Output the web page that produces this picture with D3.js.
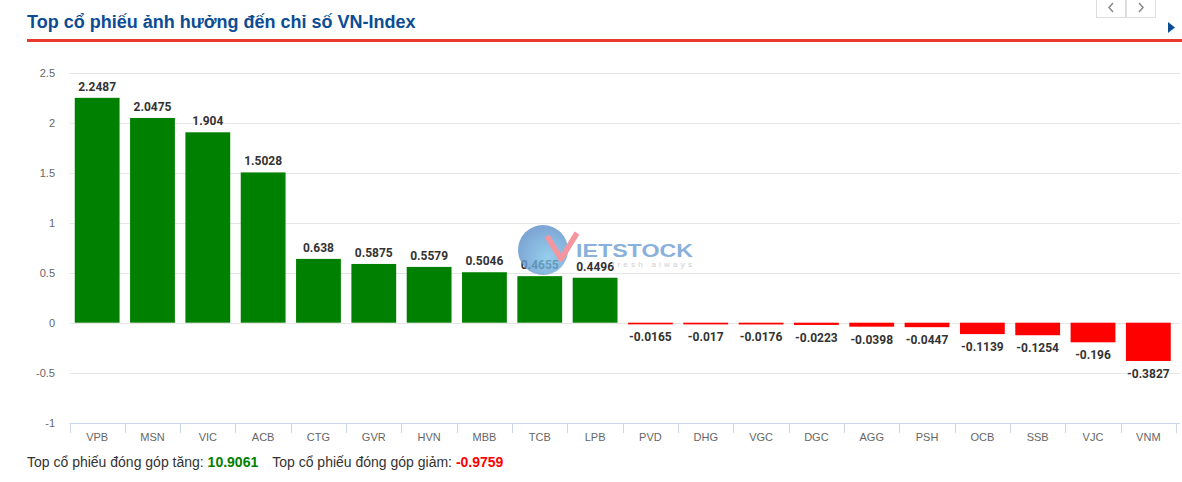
<!DOCTYPE html>
<html><head><meta charset="utf-8">
<script src="https://cdn.jsdelivr.net/npm/d3@7/dist/d3.min.js"></script>
<style>
body{margin:0;background:#fff;}
svg{display:block;}
</style></head>
<body>
<svg id="c" width="1182" height="482"></svg>
<script>
const categories = ["VPB","MSN","VIC","ACB","CTG","GVR","HVN","MBB","TCB","LPB","PVD","DHG","VGC","DGC","AGG","PSH","OCB","SSB","VJC","VNM"];
const values = [2.2487,2.0475,1.904,1.5028,0.638,0.5875,0.5579,0.5046,0.4655,0.4496,-0.0165,-0.017,-0.0176,-0.0223,-0.0398,-0.0447,-0.1139,-0.1254,-0.196,-0.3827];
const yTicks = [-1,-0.5,0,0.5,1,1.5,2,2.5];
const titleText = "Top cổ phiếu ảnh hưởng đến chỉ số VN-Index";
const totalUpLabel = "Top cổ phiếu đóng góp tăng: ";
const totalUp = "10.9061";
const totalDownLabel = "Top cổ phiếu đóng góp giảm: ";
const totalDown = "-0.9759";

const svg = d3.select("#c");
const x = d3.scaleBand().domain(categories).range([69.5, 1176]).paddingInner(0.19).paddingOuter(0.095);
const y = d3.scaleLinear().domain([-1, 2.5]).range([422.7, 72.7]);

// title
svg.append("text").attr("x",27).attr("y",28).attr("font-family","Liberation Sans, Arial, sans-serif")
  .attr("font-weight","bold").attr("font-size",18).attr("fill","#0b4c94").text(titleText);
svg.append("rect").attr("x",27).attr("y",39).attr("width",1155).attr("height",3).attr("fill","#e8392f");

// nav buttons
[1096,1126].forEach(bx=>{
  svg.append("rect").attr("x",bx+0.5).attr("y",-1).attr("width",29).attr("height",18.5).attr("fill","#fff").attr("stroke","#ddd");
});
svg.append("path").attr("d","M1113,3 L1109,7.5 L1113,12").attr("fill","none").attr("stroke","#888").attr("stroke-width",1.5);
svg.append("path").attr("d","M1139,3 L1143,7.5 L1139,12").attr("fill","none").attr("stroke","#888").attr("stroke-width",1.5);
svg.append("path").attr("d","M1168,22 L1175,27.5 L1168,33 Z").attr("fill","#0b4c94");

// grid
const g = svg.append("g");
g.selectAll("line.grid").data(yTicks.filter(t=>t!==-1)).join("line")
  .attr("x1",69.5).attr("x2",1180).attr("y1",d=>Math.round(y(d))+0.5).attr("y2",d=>Math.round(y(d))+0.5)
  .attr("stroke","#e6e6e6").attr("stroke-width",1);

// y labels
g.selectAll("text.yl").data(yTicks).join("text")
  .attr("x",55).attr("y",d=>y(d)+4).attr("text-anchor","end")
  .attr("font-family","Liberation Sans, Arial, sans-serif").attr("font-size",11).attr("fill","#666")
  .text(d=>d);

// watermark (behind bars)
const wm = svg.append("g").attr("opacity",0.8);
const grad = svg.append("defs").append("radialGradient").attr("id","wg").attr("cx","0.6").attr("cy","0.65").attr("r","0.65");
grad.append("stop").attr("offset","0").attr("stop-color","#7cc3ea");
grad.append("stop").attr("offset","1").attr("stop-color","#5d8fc9");
wm.append("circle").attr("cx",543).attr("cy",250).attr("r",25).attr("fill","url(#wg)");
wm.append("path").attr("d","M547,236 L561,259 L577,233").attr("fill","none").attr("stroke","#f27d88").attr("stroke-width",5.5).attr("stroke-linejoin","round");
wm.append("text").attr("x",576).attr("y",257).attr("font-family","Liberation Sans, Arial, sans-serif").attr("font-weight","bold")
  .attr("font-size",18).attr("textLength",117).attr("lengthAdjust","spacingAndGlyphs").attr("fill","#6d9ed3").text("IETSTOCK");
wm.append("text").attr("x",612).attr("y",267).attr("font-family","Liberation Sans, Arial, sans-serif")
  .attr("font-size",8).attr("textLength",80).attr("fill","#c4c4c4").text("fresh always");

// bars
g.append("g").selectAll("rect").data(values).join("rect")
  .attr("x",(d,i)=>x(categories[i])).attr("width",x.bandwidth())
  .attr("y",d=>y(Math.max(0,d))).attr("height",d=>Math.max(1,Math.abs(y(d)-y(0))))
  .attr("fill",d=>d>=0?"#008000":"#ff0000");

// x axis
g.append("line").attr("x1",69.5).attr("x2",1180).attr("y1",423.5).attr("y2",423.5).attr("stroke","#ccd6eb");
const edges = categories.map(c=>x(c)-x.step()*x.paddingInner()/2).concat([x(categories[categories.length-1])+x.bandwidth()+x.step()*x.paddingInner()/2]);
g.append("g").selectAll("line").data(edges).join("line")
  .attr("x1",d=>Math.round(d)+0.5).attr("x2",d=>Math.round(d)+0.5).attr("y1",423).attr("y2",433).attr("stroke","#ccd6eb");
g.append("g").selectAll("text").data(categories).join("text")
  .attr("x",d=>x(d)+x.bandwidth()/2).attr("y",441).attr("text-anchor","middle")
  .attr("font-family","Liberation Sans, Arial, sans-serif").attr("font-size",11).attr("fill","#666").text(d=>d);

// data labels
g.append("g").selectAll("text").data(values).join("text")
  .attr("x",(d,i)=>x(categories[i])+x.bandwidth()/2)
  .attr("y",d=>d>=0? y(d)-7 : y(d)+Math.max(0,1-Math.abs(y(d)-y(0)))+17)
  .attr("text-anchor","middle").attr("font-family","Roboto, sans-serif").attr("font-weight","bold")
  .attr("font-size",12).attr("fill","#333").attr("stroke","#fff").attr("stroke-width",2)
  .attr("paint-order","stroke").attr("stroke-linejoin","round").text(d=>d);

// totals
const t = svg.append("text").attr("x",27).attr("y",467).attr("font-family","Liberation Sans, Arial, sans-serif")
  .attr("font-size",14).attr("fill","#333");
t.append("tspan").text(totalUpLabel);
t.append("tspan").attr("font-weight","bold").attr("fill","#008000").text(totalUp);
t.append("tspan").attr("dx",14).text(totalDownLabel);
t.append("tspan").attr("font-weight","bold").attr("fill","#ff0000").text(totalDown);
</script>
</body></html>
